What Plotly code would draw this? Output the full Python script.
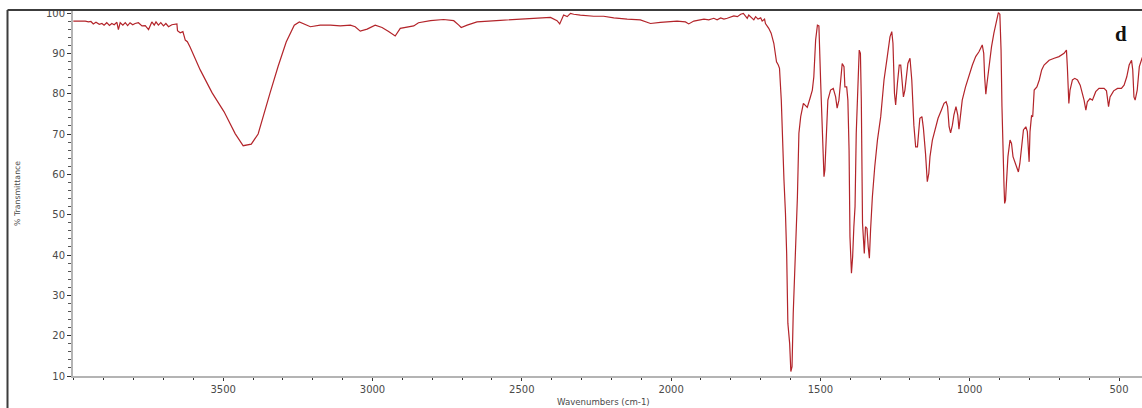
import plotly.graph_objects as go

# FT-IR spectrum, sample "d": wavenumber (cm-1) and % transmittance
wavenumber = [
    4002, 3962, 3951, 3943, 3935, 3926, 3915, 3906, 3899, 3890, 3881, 3873, 3865, 3856,
    3851, 3845, 3836, 3828, 3820, 3812, 3803, 3795, 3784, 3772, 3761, 3750, 3739, 3731,
    3725, 3717, 3709, 3700, 3692, 3683, 3672, 3661, 3655, 3653, 3644, 3635, 3627, 3620,
    3611, 3577, 3537, 3497, 3460, 3433, 3406, 3383, 3363, 3343, 3316, 3289, 3262, 3245,
    3208, 3175, 3141, 3108, 3074, 3058, 3041, 3018, 2991, 2968, 2946, 2924, 2907, 2862,
    2846, 2806, 2762, 2728, 2711, 2703, 2683, 2650, 2572, 2482, 2404, 2382, 2373, 2360,
    2348, 2337, 2326, 2304, 2259, 2226, 2192, 2147, 2103, 2069, 2036, 1980, 1952, 1941,
    1924, 1890, 1874, 1857, 1846, 1834, 1823, 1812, 1801, 1790, 1778, 1767, 1758, 1751,
    1745, 1740, 1734, 1723, 1717, 1709, 1700, 1695, 1687, 1684, 1673, 1665, 1656, 1647,
    1641, 1637, 1631, 1628, 1622, 1617, 1613, 1609, 1603, 1599, 1595, 1591, 1585, 1580,
    1577, 1572, 1566, 1557, 1553, 1544, 1535, 1527, 1522, 1516, 1510, 1505, 1499, 1494,
    1488, 1485, 1480, 1475, 1466, 1457, 1449, 1444, 1438, 1432, 1427, 1421, 1418, 1412,
    1408, 1404, 1401, 1396, 1392, 1388, 1384, 1380, 1374, 1370, 1366, 1363, 1359, 1355,
    1353, 1349, 1344, 1340, 1336, 1332, 1326, 1318, 1309, 1298, 1287, 1276, 1267, 1261,
    1257, 1252, 1248, 1242, 1236, 1231, 1227, 1222, 1217, 1212, 1207, 1200, 1194, 1187,
    1181, 1175, 1171, 1167, 1160, 1155, 1148, 1142, 1137, 1133, 1125, 1116, 1106, 1095,
    1086, 1079, 1074, 1069, 1064, 1058, 1053, 1046, 1040, 1036, 1031, 1025, 1014, 1002,
    991, 980, 969, 958, 953, 950, 946, 942, 935, 927, 919, 910, 904, 899,
    895, 892, 888, 885, 883, 880, 877, 872, 865, 860, 855, 846, 837, 832,
    826, 820, 812, 807, 801, 798, 793, 789, 784, 775, 767, 759, 751, 734,
    717, 701, 684, 676, 673, 668, 664, 656, 648, 639, 630, 622, 617, 611,
    606, 597, 589, 578, 567, 550, 542, 535, 530, 518, 505, 492, 483, 474,
    466, 458, 454, 450, 446, 439, 432, 422,
]
transmittance = [
    98.0, 98.0, 97.8, 97.9, 97.3, 97.7, 97.2, 97.4, 97.0, 97.6, 96.9, 97.4, 97.1, 97.7,
    95.9, 97.6, 97.0, 97.6, 96.9, 97.6, 97.1, 97.4, 97.6, 96.8, 96.9, 95.9, 97.8, 97.0,
    97.8, 97.0, 97.6, 96.8, 97.4, 96.6, 97.1, 97.3, 97.3, 95.6, 95.1, 95.4, 93.3, 92.9,
    91.6, 85.9, 80.2, 75.5, 70.1, 67.1, 67.5, 70.0, 75.4, 80.2, 86.8, 92.8, 97.0, 97.8,
    96.6, 97.0, 97.0, 96.8, 97.0, 96.6, 95.5, 96.0, 97.0, 96.4, 95.4, 94.3, 96.2, 96.8,
    97.6, 98.1, 98.4, 98.1, 97.0, 96.4, 97.0, 97.8, 98.2, 98.5, 98.9, 98.1, 97.3, 99.5,
    99.1, 99.9, 99.7, 99.5, 99.2, 99.2, 98.8, 98.5, 98.3, 97.4, 97.7, 98.0, 97.8, 97.3,
    98.0, 98.5, 98.3, 98.7, 98.3, 98.8, 98.5, 98.7, 99.0, 99.3, 99.1, 99.7, 99.9, 99.3,
    98.7, 99.5, 99.1, 98.3, 99.1, 98.5, 98.8, 98.0, 98.5, 97.4, 96.2, 95.0, 92.5, 87.9,
    87.1, 86.3, 78.4, 70.2, 58.6, 50.3, 40.4, 23.1, 18.1, 11.1, 12.3, 25.5, 37.1, 50.3,
    54.4, 70.2, 74.3, 77.6, 77.2, 76.6, 78.8, 80.9, 84.2, 93.3, 97.0, 96.8, 82.6, 70.2,
    59.4, 61.1, 68.5, 78.4, 80.9, 81.3, 79.2, 76.4, 78.4, 83.4, 87.5, 86.7, 81.7, 81.7,
    78.4, 66.0, 44.5, 35.5, 39.6, 47.0, 52.0, 70.2, 86.7, 90.8, 90.0, 78.4, 47.9, 42.1,
    40.4, 47.0, 46.6, 42.1, 39.2, 46.2, 54.4, 61.9, 68.5, 74.3, 83.4, 89.2, 94.1, 95.4,
    92.5, 80.1, 77.2, 82.6, 87.1, 87.1, 84.2, 79.2, 80.9, 85.0, 87.5, 88.8, 83.4, 72.2,
    66.8, 66.8, 70.6, 73.9, 74.3, 71.4, 65.2, 58.2, 60.2, 64.4, 68.5, 71.4, 73.9, 75.9,
    77.6, 78.0, 76.8, 71.8, 70.3, 72.2, 74.7, 76.8, 74.7, 71.2, 74.7, 78.4, 81.7, 84.6,
    87.1, 89.2, 90.4, 92.1, 90.0, 84.2, 79.9, 82.6, 87.5, 91.6, 95.0, 98.1, 100.1, 99.7,
    90.8, 76.8, 61.9, 56.9, 52.8, 53.6, 57.8, 64.4, 68.5, 67.7, 64.4, 62.7, 60.6, 62.7,
    66.8, 71.0, 71.8, 70.6, 63.1, 70.6, 74.5, 74.3, 80.9, 81.7, 83.4, 85.9, 87.1, 88.3,
    88.8, 89.2, 90.0, 90.8, 86.7, 77.6, 80.9, 83.4, 83.8, 83.4, 82.1, 80.1, 78.4, 75.9,
    78.0, 78.8, 78.4, 80.5, 81.3, 81.3, 80.7, 76.8, 79.2, 80.7, 81.3, 81.3, 82.1, 84.2,
    87.1, 88.3, 85.9, 79.2, 78.4, 80.9, 86.7, 89.0,
]

x_ticks = [3500, 3000, 2500, 2000, 1500, 1000, 500]
y_ticks = [10, 20, 30, 40, 50, 60, 70, 80, 90, 100]
x_title = "Wavenumbers (cm-1)"
y_title = "% Transmittance"
panel_label = "d"

# page geometry (pixels)
W, H = 1142, 408
ML, MR, MT, MB = 73, 0, 10, 32
PW, PH = W - ML - MR, H - MT - MB


def px_x(px):
    return (px - ML) / PW


def px_y(py):
    return (H - MB - py) / PH


tick_font = dict(family="DejaVu Sans", size=10, color="#4a4a4a")

fig = go.Figure()
fig.add_trace(go.Scatter(
    x=wavenumber, y=transmittance, mode="lines",
    line=dict(color="#b3242a", width=1.2),
    hoverinfo="x+y", showlegend=False,
))

fig.update_layout(
    width=W, height=H,
    margin=dict(l=ML, r=MR, t=MT, b=MB, pad=0),
    paper_bgcolor="white", plot_bgcolor="white",
    xaxis=dict(
        range=[4003, 423], tickvals=x_ticks, ticks="outside", ticklen=3,
        tickcolor="#333", tickwidth=1, tickfont=tick_font,
        showline=True, linecolor="#b4b4b4", linewidth=2,
        showgrid=False, zeroline=False,
        minor=dict(dtick=100, ticks="outside", ticklen=2, tickcolor="#333"),
    ),
    yaxis=dict(
        range=[10, 100.75], tickvals=y_ticks, ticks="outside", ticklen=4,
        tickcolor="#333", tickwidth=1, tickfont=tick_font,
        showline=True, linecolor="#b4b4b4", linewidth=2,
        showgrid=False, zeroline=False,
        minor=dict(dtick=2, ticks="outside", ticklen=3, tickcolor="#555"),
    ),
    shapes=[
        # outer frame: left and top edges
        dict(type="line", xref="paper", yref="paper",
             x0=px_x(7.5), x1=px_x(7.5), y0=px_y(H), y1=px_y(10),
             line=dict(color="#3c3c3c", width=2)),
        dict(type="line", xref="paper", yref="paper",
             x0=px_x(7.5), x1=1.0, y0=px_y(10), y1=px_y(10),
             line=dict(color="#3c3c3c", width=2)),
    ],
    annotations=[
        dict(text=x_title, xref="paper", yref="paper", x=px_x(603), y=px_y(402),
             showarrow=False, xanchor="center", yanchor="middle",
             font=dict(family="DejaVu Sans", size=8.6, color="#4a4a4a")),
        dict(text=y_title, xref="paper", yref="paper", x=px_x(17), y=px_y(194),
             showarrow=False, xanchor="center", yanchor="middle", textangle=-90,
             font=dict(family="DejaVu Sans", size=7.8, color="#4a4a4a")),
        dict(text="<b>" + panel_label + "</b>", xref="paper", yref="paper",
             x=px_x(1121), y=px_y(34), showarrow=False,
             xanchor="center", yanchor="middle",
             font=dict(family="Liberation Serif", size=21, color="#111")),
    ],
)

fig.write_html("out.html")
